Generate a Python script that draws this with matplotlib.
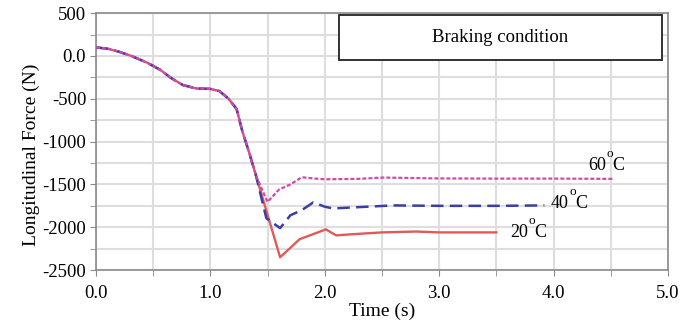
import numpy as np
import matplotlib.pyplot as plt
from matplotlib.ticker import MultipleLocator

plt.rcParams['font.family'] = ['Liberation Serif', 'DejaVu Serif']

# shared part of the force curve before the temperatures split
t_common = [0.0, 0.1, 0.2, 0.31, 0.45, 0.56, 0.66, 0.76, 0.88, 1.0, 1.08, 1.16, 1.23, 1.28, 1.34, 1.40]
f_common = [100, 85, 50, 0, -80, -160, -260, -340, -380, -385, -410, -500, -620, -880, -1130, -1400]

# 20 C branch
t_20 = [1.61, 1.70, 1.78, 1.90, 2.01, 2.10, 2.20, 2.50, 2.80, 3.00, 3.50]
f_20 = [-2350, -2240, -2140, -2080, -2025, -2095, -2085, -2060, -2050, -2060, -2060]

# 40 C branch
t_40 = [1.49, 1.61, 1.70, 1.80, 1.90, 2.00, 2.07, 2.30, 2.60, 3.00, 3.50, 3.92]
f_40 = [-1895, -2010, -1860, -1800, -1710, -1760, -1780, -1765, -1745, -1750, -1750, -1745]

# 60 C branch
t_60 = [1.50, 1.60, 1.70, 1.80, 1.90, 2.00, 2.30, 2.50, 3.00, 3.50, 4.00, 4.52]
f_60 = [-1705, -1560, -1500, -1416, -1430, -1440, -1435, -1420, -1430, -1432, -1432, -1435]

# temperature tags: number, anchor (right end of the number, baseline)
temps = ['60', '40', '20']
tag_x = [4.458, 4.135, 3.776]
tag_y = [-1332, -1776, -2114]

fig = plt.figure(figsize=(6.9, 3.2), dpi=100)
ax = fig.add_axes([0.139, 0.156, 0.829, 0.803])

ax.plot(t_common + t_20, f_common + f_20, color='#e05a5a', lw=1.7, zorder=3)
ax.plot(t_common + t_40, f_common + f_40, color='#3a3fa8', lw=1.8, ls=(0, (5, 2.5)), zorder=4)
ax.plot(t_common + t_60, f_common + f_60, color='#d04aa8', lw=1.6, ls=(0, (1.8, 0.9)), zorder=5)

ax.set_xlim(0, 5)
ax.set_ylim(-2500, 500)
ax.xaxis.set_major_locator(MultipleLocator(1.0))
ax.xaxis.set_minor_locator(MultipleLocator(0.5))
ax.yaxis.set_minor_locator(MultipleLocator(250))
ax.set_xticklabels([f'{v:.1f}' for v in ax.get_xticks()])
ax.set_yticks([500, 0, -500, -1000, -1500, -2000, -2500])
ax.set_yticklabels(['500', '0.0', '-500', '-1000', '-1500', '-2000', '-2500'])

ax.grid(which='both', color='#dedede', lw=1.5, zorder=0)
ax.axhline(0, color='#8a8a8a', lw=1.2, zorder=1)
for s in ax.spines.values():
    s.set_color('#8a8a8a')
    s.set_linewidth(1.2)
ax.tick_params(which='both', direction='out', length=4, color='#8a8a8a', labelsize=13.5)
ax.tick_params(axis='x', pad=7)
ax.tick_params(axis='y', pad=3)

ax.set_xlabel('Time (s)', fontsize=14, labelpad=0)
ax.set_ylabel('Longitudinal Force (N)', fontsize=14)
ax.yaxis.set_label_coords(-0.097, 0.45)

# "60 oC" style tags with a raised degree "o"
for num, x, y in zip(temps, tag_x, tag_y):
    ax.annotate(num, (x, y), fontsize=13, ha='right', va='baseline')
    ax.annotate('o', (x, y), xytext=(3.0, 9.5), textcoords='offset points',
                fontsize=9.5, ha='center', va='baseline')
    ax.annotate('C', (x, y), xytext=(4.8, 0), textcoords='offset points',
                fontsize=13, ha='left', va='baseline')

box = plt.Rectangle((0.425, 0.817), 0.565, 0.175, transform=ax.transAxes,
                    facecolor='white', edgecolor='#222222', lw=1.3, zorder=6)
ax.add_patch(box)
ax.text(0.7075, 0.9045, 'Braking condition', transform=ax.transAxes,
        fontsize=13.5, ha='center', va='center', zorder=7)

fig.savefig('out.png', dpi=100)
